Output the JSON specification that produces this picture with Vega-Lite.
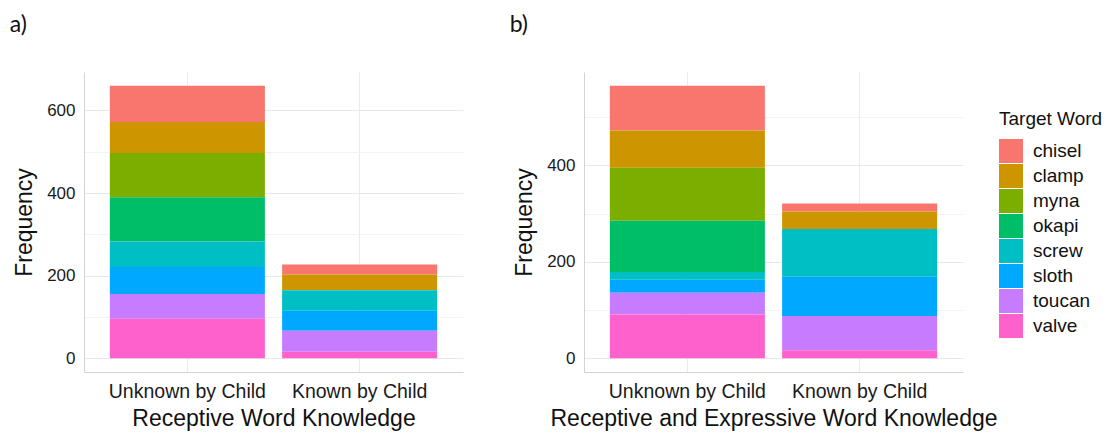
{
  "$schema": "https://vega.github.io/schema/vega-lite/v6.json",
  "padding": {"left": 9, "top": 14, "right": 5, "bottom": 0},
  "config": {
    "font": "Liberation Sans",
    "view": {"stroke": null},
    "axis": {
      "domainColor": "#d4d4d4",
      "gridColor": "#ebebeb",
      "ticks": false,
      "labelColor": "#1a1a1a",
      "titleColor": "#111111",
      "titleFontWeight": "normal",
      "titleFontSize": 23,
      "labelFontSize": 17
    },
    "title": {"font": "Lato", "fontSize": 23, "fontWeight": "normal", "anchor": "start", "frame": "bounds", "offset": 35, "dx": -4, "color": "#111111"}
  },
  "datasets": {
    "a": [
      {"knowledge": "Unknown by Child", "word": "chisel", "count": 88},
      {"knowledge": "Unknown by Child", "word": "clamp", "count": 75},
      {"knowledge": "Unknown by Child", "word": "myna", "count": 107},
      {"knowledge": "Unknown by Child", "word": "okapi", "count": 107},
      {"knowledge": "Unknown by Child", "word": "screw", "count": 62},
      {"knowledge": "Unknown by Child", "word": "sloth", "count": 65},
      {"knowledge": "Unknown by Child", "word": "toucan", "count": 60},
      {"knowledge": "Unknown by Child", "word": "valve", "count": 96},
      {"knowledge": "Known by Child", "word": "chisel", "count": 24},
      {"knowledge": "Known by Child", "word": "clamp", "count": 38},
      {"knowledge": "Known by Child", "word": "screw", "count": 50},
      {"knowledge": "Known by Child", "word": "sloth", "count": 48},
      {"knowledge": "Known by Child", "word": "toucan", "count": 51},
      {"knowledge": "Known by Child", "word": "valve", "count": 16}
    ],
    "b": [
      {"knowledge": "Unknown by Child", "word": "chisel", "count": 93},
      {"knowledge": "Unknown by Child", "word": "clamp", "count": 77},
      {"knowledge": "Unknown by Child", "word": "myna", "count": 110},
      {"knowledge": "Unknown by Child", "word": "okapi", "count": 106},
      {"knowledge": "Unknown by Child", "word": "screw", "count": 16},
      {"knowledge": "Unknown by Child", "word": "sloth", "count": 27},
      {"knowledge": "Unknown by Child", "word": "toucan", "count": 45},
      {"knowledge": "Unknown by Child", "word": "valve", "count": 91},
      {"knowledge": "Known by Child", "word": "chisel", "count": 17},
      {"knowledge": "Known by Child", "word": "clamp", "count": 36},
      {"knowledge": "Known by Child", "word": "screw", "count": 99},
      {"knowledge": "Known by Child", "word": "sloth", "count": 81},
      {"knowledge": "Known by Child", "word": "toucan", "count": 71},
      {"knowledge": "Known by Child", "word": "valve", "count": 17}
    ]
  },
  "spacing": 46,
  "hconcat": [
    {
      "title": {"text": "a)"},
      "width": 379,
      "height": 300,
      "data": {"name": "a"},
      "mark": {"type": "bar"},
      "encoding": {
        "x": {
          "field": "knowledge", "type": "nominal",
          "sort": ["Unknown by Child", "Known by Child"],
          "scale": {"paddingInner": 0.1, "paddingOuter": 0.15},
          "axis": {"title": "Receptive Word Knowledge", "labelAngle": 0, "labelFontSize": 19.5, "labelPadding": 10, "titlePadding": 7, "grid": true, "bandPosition": 0.5}
        },
        "y": {
          "field": "count", "type": "quantitative", "aggregate": "sum",
          "scale": {"domain": [-33, 693], "nice": false, "zero": false},
          "axis": {
            "title": "Frequency",
            "values": [0, 100, 200, 300, 400, 500, 600],
            "labelExpr": "datum.value % 200 === 0 ? datum.label : ''",
            "gridColor": {"condition": {"test": "datum.value % 200 === 0", "value": "#e8e8e8"}, "value": "#f3f3f3"},
            "labelPadding": 9,
            "titlePadding": 10
          }
        },
        "color": {
          "field": "word", "type": "nominal",
          "scale": {
            "domain": ["chisel", "clamp", "myna", "okapi", "screw", "sloth", "toucan", "valve"],
            "range": ["#F8766D", "#CD9600", "#7CAE00", "#00BE67", "#00BFC4", "#00A9FF", "#C77CFF", "#FF61CC"]
          },
          "legend": {
            "title": "Target Word", "titleFontSize": 19, "titleFontWeight": "normal", "titleColor": "#111111",
            "labelFontSize": 19, "labelColor": "#111111",
            "symbolType": "square", "symbolSize": 576, "symbolStrokeWidth": 0, "symbolOpacity": 1,
            "rowPadding": 1, "offset": -37, "titlePadding": 10, "labelOffset": 10, "padding": 38
          }
        },
        "order": {"field": "word", "sort": "descending"}
      }
    },
    {
      "title": {"text": "b)"},
      "width": 379,
      "height": 300,
      "data": {"name": "b"},
      "mark": {"type": "bar"},
      "encoding": {
        "x": {
          "field": "knowledge", "type": "nominal",
          "sort": ["Unknown by Child", "Known by Child"],
          "scale": {"paddingInner": 0.1, "paddingOuter": 0.15},
          "axis": {"title": "Receptive and Expressive Word Knowledge", "labelAngle": 0, "labelFontSize": 19.5, "labelPadding": 10, "titlePadding": 7, "grid": true, "bandPosition": 0.5}
        },
        "y": {
          "field": "count", "type": "quantitative", "aggregate": "sum",
          "scale": {"domain": [-28.25, 593.25], "nice": false, "zero": false},
          "axis": {
            "title": "Frequency",
            "values": [0, 100, 200, 300, 400, 500],
            "labelExpr": "datum.value % 200 === 0 ? datum.label : ''",
            "gridColor": {"condition": {"test": "datum.value % 200 === 0", "value": "#e8e8e8"}, "value": "#f3f3f3"},
            "labelPadding": 9,
            "titlePadding": 10
          }
        },
        "color": {"field": "word", "type": "nominal"},
        "order": {"field": "word", "sort": "descending"}
      }
    }
  ]
}
